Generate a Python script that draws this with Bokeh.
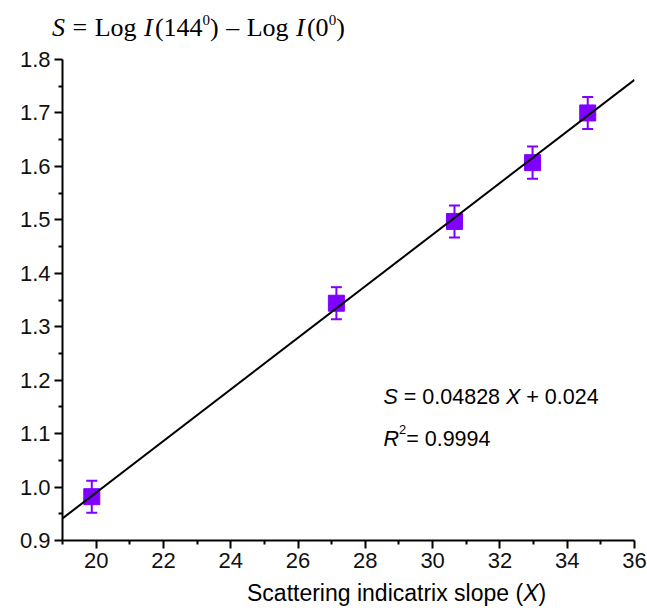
from bokeh.plotting import figure
from bokeh.layouts import column
from bokeh.models import (ColumnDataSource, Whisker, TeeHead, Label, FixedTicker,
                          PrintfTickFormatter, Range1d, Div)
from bokeh.embed import file_html
from bokeh.resources import INLINE

# ---- data ----
slope_x = [19.87, 27.14, 30.65, 32.97, 34.61]
s_vals = [0.982, 1.344, 1.497, 1.607, 1.700]
s_err = [0.030, 0.030, 0.030, 0.030, 0.030]
fit_slope = 0.04828
fit_intercept = 0.024
r_squared = "0.9994"
x_ticks = [20, 22, 24, 26, 28, 30, 32, 34, 36]
x_minor = [19, 21, 23, 25, 27, 29, 31, 33, 35]
y_ticks = [0.9, 1.0, 1.1, 1.2, 1.3, 1.4, 1.5, 1.6, 1.7, 1.8]
y_minor = [0.95, 1.05, 1.15, 1.25, 1.35, 1.45, 1.55, 1.65, 1.75]
x_lim = [19, 36]
y_lim = [0.9, 1.8]

VIOLET = "#8000FF"
NB = "\u00a0"

p = figure(width=647, height=536, x_range=Range1d(*x_lim), y_range=Range1d(*y_lim),
           output_backend="svg", toolbar_location=None,
           min_border_left=62, min_border_right=13, min_border_top=15, min_border_bottom=40)
p.outline_line_color = None
p.xgrid.visible = False
p.ygrid.visible = False
p.background_fill_color = "white"
p.border_fill_color = "white"

p.xaxis.ticker = FixedTicker(ticks=x_ticks, minor_ticks=x_minor)
p.yaxis.ticker = FixedTicker(ticks=y_ticks, minor_ticks=y_minor)
p.yaxis.formatter = PrintfTickFormatter(format="%.1f")
for ax in (p.xaxis[0], p.yaxis[0]):
    ax.axis_line_width = 2
    ax.axis_line_color = "black"
    ax.major_tick_line_width = 2
    ax.minor_tick_line_width = 2
    ax.major_tick_out = 8
    ax.major_tick_in = 0
    ax.minor_tick_out = 4
    ax.minor_tick_in = 0
    ax.major_label_text_font = "Liberation Sans"
    ax.major_label_text_font_size = "22px"
    ax.major_label_text_color = "#111111"
p.xaxis.major_label_standoff = 4
p.yaxis.major_label_standoff = 4

src = ColumnDataSource(data=dict(
    x=slope_x, y=s_vals,
    upper=[v + e for v, e in zip(s_vals, s_err)],
    lower=[v - e for v, e in zip(s_vals, s_err)]))

p.add_layout(Whisker(source=src, base="x", upper="upper", lower="lower",
                     line_color=VIOLET, line_width=2,
                     upper_head=TeeHead(size=11, line_color=VIOLET, line_width=2),
                     lower_head=TeeHead(size=11, line_color=VIOLET, line_width=2)))
p.scatter("x", "y", source=src, marker="square", size=16,
          fill_color=VIOLET, line_color=VIOLET)

fit_y = [fit_slope * v + fit_intercept for v in x_lim]
p.line(x_lim, fit_y, line_color="black", line_width=2)

# ---- rich text inside the frame ----
ARIAL = {' ': 278, NB: 278, '=': 584, '.': 278, '+': 584, 'S': 667, 'X': 667, 'R': 722}
for d in "0123456789":
    ARIAL[d] = 556


def runs(pieces, x0, y0, size):
    x = x0
    for text, style, scale, rise in pieces:
        fs = size * scale
        p.add_layout(Label(x=x, y=y0 + rise, x_units="screen", y_units="screen",
                           text=text, text_font="Liberation Sans",
                           text_font_size=f"{fs:.1f}px",
                           text_font_style=style, text_color="black",
                           text_baseline="alphabetic", text_align="left"))
        x += sum(ARIAL.get(c, 556) for c in text) * fs / 1000.0


runs([("S", "italic", 1, 0), (NB + "=" + NB + "0.04828" + NB, "normal", 1, 0),
      ("X", "italic", 1, 0), (NB + "+" + NB + "0.024", "normal", 1, 0)],
     321, 144, 21.5)
runs([("R", "italic", 1, 0), ("2", "normal", 0.6, 9), ("=" + NB + r_squared, "normal", 1, 0)],
     321, 102, 21.5)

# ---- title and x-axis title as HTML (mixed italic / superscript) ----
sup = '<span style="font-size:15px;position:relative;top:-11px;">0</span>'
title_html = (
    '<div style="padding-left:52px;padding-top:13px;font-family:\'Liberation Serif\';'
    'font-size:26px;line-height:30px;white-space:nowrap;color:#000;word-spacing:1px;">'
    '<i>S</i> = Log <i>I</i>&#8202;(144' + sup + ') &#8211; Log <i>I</i>&#8202;(0' + sup + ')'
    '</div>')
title_div = Div(text=title_html, width=647, height=44, margin=0)

xlabel_html = (
    '<div style="padding-left:247px;padding-top:0px;font-family:\'Liberation Sans\';'
    'font-size:23px;line-height:26px;white-space:nowrap;color:#000;">'
    'Scattering indicatrix slope (<i>X</i>)</div>')
xlabel_div = Div(text=xlabel_html, width=647, height=28, margin=0)

layout = column(title_div, p, xlabel_div, spacing=0)

open("out.html", "w").write(file_html(layout, INLINE))
